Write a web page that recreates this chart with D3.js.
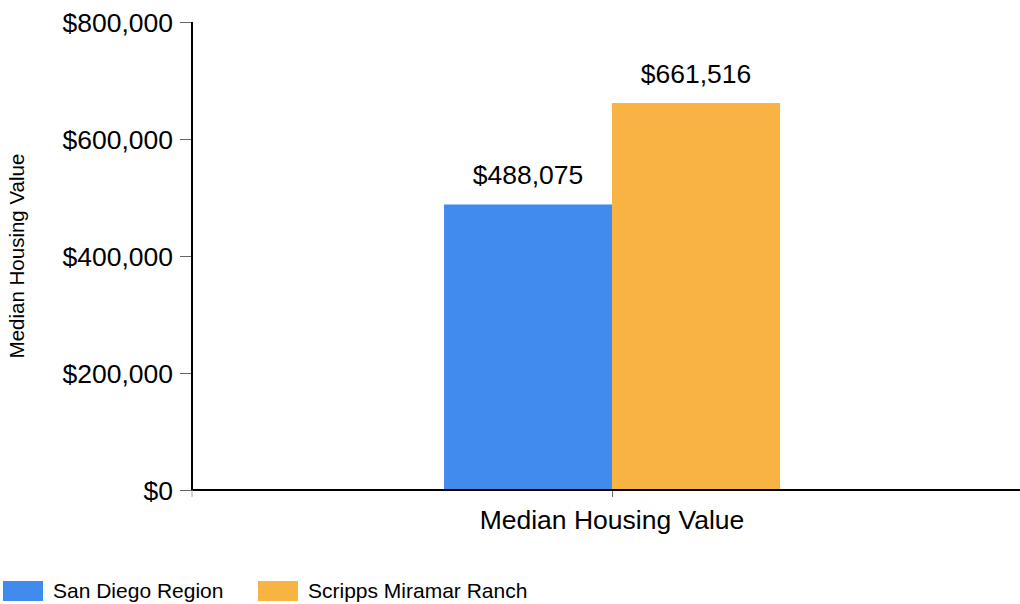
<!DOCTYPE html>
<html lang="en">
<head>
<meta charset="utf-8">
<script src="https://cdn.jsdelivr.net/npm/d3@7"></script>
<style>
  body { margin: 0; background: #fff; }
  svg { display: block; font-family: "Liberation Sans", Arial, sans-serif; }
  .axis path, .axis line { shape-rendering: crispEdges; }
</style>
</head>
<body>
<div id="chart"></div>
<script>
// data
let categories = ['Median Housing Value']
let seriesNames = ['San Diego Region', 'Scripps Miramar Ranch']
let seriesValues = [488075, 661516]
let seriesColors = ['#418bee', '#f9b342']
let yTicks = [0, 200000, 400000, 600000, 800000]

let w = 1020
let h = 604
let padding = { left: 192, right: -12, top: 22, bottom: 114 }

let svg = d3.select('#chart')
    .append('svg')
    .attr('width', w)
    .attr('height', h)

let xScale = d3.scaleBand()
    .domain(categories)
    .range([padding.left, w - padding.right])
    .padding(0)
let inner = d3.scaleBand()
    .domain(seriesNames)
    .range([0, xScale.bandwidth()])
    .paddingInner(0)
    .paddingOuter(1.5)
let yScale = d3.scaleLinear()
    .domain([0, 800000])
    .range([h - padding.bottom, padding.top])

let fmt = d3.format('$,')

// bars
let groups = svg.selectAll('g.cat')
    .data(categories)
    .enter()
    .append('g')
    .attr('class', 'cat')
    .attr('transform', d => 'translate(' + xScale(d) + ',0)')

groups.selectAll('rect')
    .data(seriesNames.map((s, i) => ({ name: s, value: seriesValues[i], color: seriesColors[i] })))
    .enter()
    .append('rect')
    .attr('x', d => inner(d.name))
    .attr('y', d => yScale(d.value))
    .attr('width', inner.bandwidth())
    .attr('height', d => yScale(0) - yScale(d.value))
    .attr('fill', d => d.color)

groups.selectAll('text.val')
    .data(seriesNames.map((s, i) => ({ name: s, value: seriesValues[i] })))
    .enter()
    .append('text')
    .attr('class', 'val')
    .attr('x', d => inner(d.name) + inner.bandwidth() / 2)
    .attr('y', d => yScale(d.value) - 20)
    .attr('text-anchor', 'middle')
    .attr('font-size', '26.5px')
    .attr('fill', '#000')
    .text(d => fmt(d.value))

// axes
let yAxis = d3.axisLeft(yScale)
    .tickValues(yTicks)
    .tickFormat(fmt)
    .tickSize(12)
    .tickPadding(7)
let yG = svg.append('g')
    .attr('class', 'axis')
    .attr('transform', 'translate(' + padding.left + ',0)')
    .call(yAxis)
yG.select('.domain').remove()
yG.selectAll('line').attr('stroke', '#666').attr('stroke-width', 1)
yG.selectAll('text').attr('font-size', '26.5px').attr('fill', '#000').attr('dy', '0.35em')
    .style('font-family', '"Liberation Sans", Arial, sans-serif')
svg.append('line')
    .attr('x1', padding.left).attr('x2', padding.left)
    .attr('y1', yScale(800000)).attr('y2', yScale(0))
    .attr('stroke', '#000').attr('stroke-width', 2)

let xAxis = d3.axisBottom(xScale).tickSize(7).tickFormat('')
let xG = svg.append('g')
    .attr('class', 'axis')
    .attr('transform', 'translate(0,' + yScale(0) + ')')
    .call(xAxis)
xG.select('.domain').remove()
xG.selectAll('line').attr('stroke', '#666').attr('stroke-width', 1)
svg.append('line')
    .attr('x1', padding.left - 1).attr('x2', w)
    .attr('y1', yScale(0)).attr('y2', yScale(0))
    .attr('stroke', '#000').attr('stroke-width', 2)
// small tick under y-axis at origin
svg.append('line')
    .attr('x1', padding.left).attr('x2', padding.left)
    .attr('y1', yScale(0)).attr('y2', yScale(0) + 7)
    .attr('stroke', '#aaa').attr('stroke-width', 1)

svg.append('text')
    .attr('x', xScale(categories[0]) + xScale.bandwidth() / 2)
    .attr('y', 529)
    .attr('text-anchor', 'middle')
    .attr('font-size', '26.5px')
    .text(categories[0])

svg.append('text')
    .attr('transform', 'translate(24,' + ((yScale(0) + yScale(800000)) / 2) + ') rotate(-90)')
    .attr('text-anchor', 'middle')
    .attr('font-size', '20.5px')
    .text('Median Housing Value')

// legend
let legendX = [3, 258]
let legend = svg.selectAll('g.legend')
    .data(seriesNames)
    .enter()
    .append('g')
    .attr('class', 'legend')
    .attr('transform', (d, i) => 'translate(' + legendX[i] + ',581)')
legend.append('rect')
    .attr('width', 40)
    .attr('height', 20)
    .attr('fill', (d, i) => seriesColors[i])
legend.append('text')
    .attr('x', 50)
    .attr('y', 17)
    .attr('font-size', '21px')
    .text(d => d)
</script>
</body>
</html>
